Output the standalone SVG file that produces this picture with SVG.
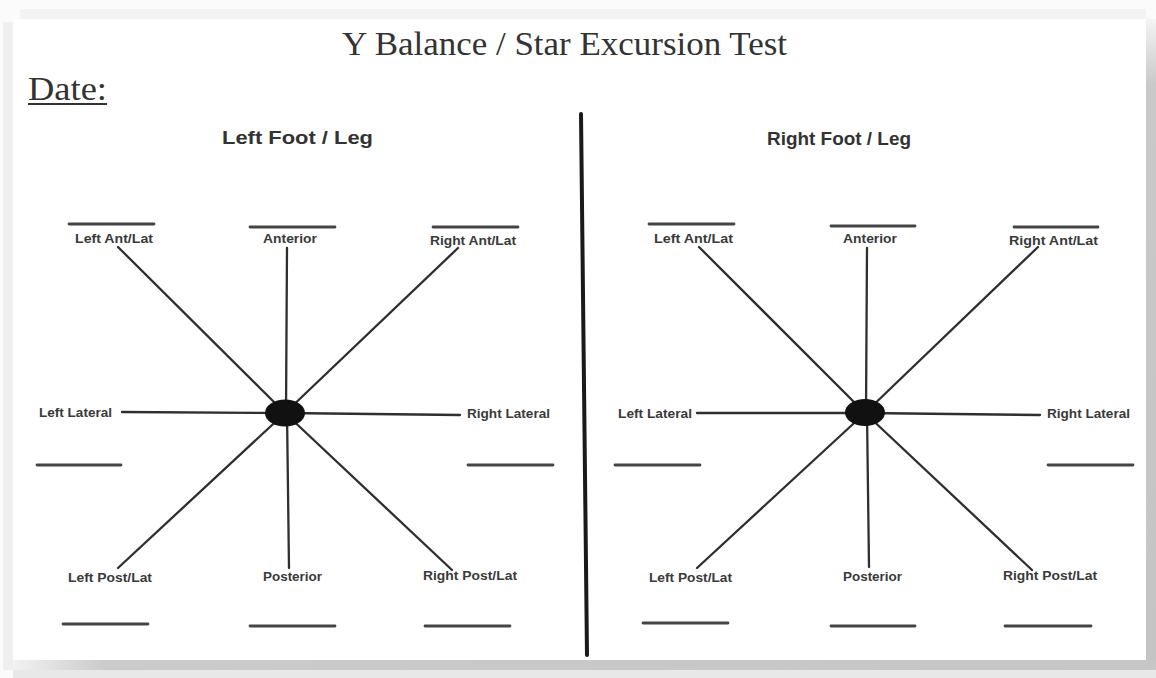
<svg xmlns="http://www.w3.org/2000/svg" width="1156" height="678" viewBox="0 0 1156 678">
  <defs>
    <linearGradient id="edgeRight" x1="0" y1="0" x2="0" y2="1">
      <stop offset="0" stop-color="#f4f4f4"/>
      <stop offset="0.1" stop-color="#c9c9c9"/>
      <stop offset="1" stop-color="#c4c4c4"/>
    </linearGradient>
    <linearGradient id="edgeBottom" x1="0" y1="0" x2="1" y2="0">
      <stop offset="0" stop-color="#f2f2f2"/>
      <stop offset="0.08" stop-color="#cbcbcb"/>
      <stop offset="1" stop-color="#c6c6c6"/>
    </linearGradient>
    <style>
      .title { font-family: "Liberation Serif", "DejaVu Serif", serif; fill: #333; }
      .side { font-family: "Liberation Sans", Arial, sans-serif; font-weight: bold; font-size: 19px; fill: #333; }
      .lbl { font-family: "Liberation Sans", Arial, sans-serif; font-weight: bold; font-size: 12.5px; fill: #3a3a3a; }
      .spoke { stroke: #2f2f2f; stroke-width: 2.3; stroke-linecap: round; fill: none; }
      .blank { stroke: #444; stroke-width: 2.8; stroke-linecap: round; fill: none; }
      .hub { fill: #111; }
    </style>
  </defs>

  <!-- page with its soft drop edges -->
  <rect x="0" y="0" width="1156" height="678" fill="#fbfbfb"/>
  <rect x="20" y="9" width="1126" height="10" fill="#f3f3f3"/>
  <rect x="3" y="22" width="10" height="648" fill="#efefef"/>
  <rect x="1146" y="19" width="10" height="651" fill="url(#edgeRight)"/>
  <rect x="13" y="660" width="1143" height="10" fill="url(#edgeBottom)"/>
  <rect x="13" y="670" width="1143" height="8" fill="#e8e8e8"/>
  <rect x="13" y="19" width="1133" height="641" fill="#ffffff"/>

  <!-- header -->
  <g id="title">
    <text class="title" x="342" y="55" font-size="34" textLength="445" lengthAdjust="spacingAndGlyphs">Y Balance / Star Excursion Test</text>
  </g>
  <g id="date">
    <text class="title" x="28" y="100" font-size="34" textLength="79" lengthAdjust="spacingAndGlyphs">Date:</text>
    <line x1="28" y1="104" x2="107" y2="104" stroke="#333" stroke-width="2"/>
  </g>

  <!-- divider between the two legs -->
  <g id="divider">
    <line x1="581" y1="114" x2="587" y2="655" stroke="#1a1a1a" stroke-width="4" stroke-linecap="round"/>
  </g>

  <!-- LEFT FOOT -->
  <g id="left-heading">
    <text class="side" x="222" y="144" textLength="151" lengthAdjust="spacingAndGlyphs">Left Foot / Leg</text>
  </g>

  <g id="left-connectors">
    <line class="spoke" x1="287" y1="248" x2="286" y2="413"/>
    <line class="spoke" x1="458" y1="248" x2="285" y2="413"/>
    <line class="spoke" x1="118" y1="247" x2="285" y2="413"/>
    <line class="spoke" x1="122" y1="412" x2="285" y2="413"/>
    <line class="spoke" x1="285" y1="413" x2="460" y2="415"/>
    <line class="spoke" x1="285" y1="413" x2="452" y2="570"/>
    <line class="spoke" x1="287" y1="413" x2="289" y2="568"/>
    <line class="spoke" x1="285" y1="413" x2="118" y2="568"/>
  </g>

  <g id="left-hub"><ellipse class="hub" cx="285" cy="413" rx="20" ry="13.5"/></g>

  <g id="left-ant-lat">
    <line class="blank" x1="69" y1="224" x2="154" y2="224"/>
    <text class="lbl" x="75" y="243" textLength="78" lengthAdjust="spacingAndGlyphs">Left Ant/Lat</text>
  </g>
  <g id="left-anterior">
    <line class="blank" x1="250" y1="227" x2="335" y2="227"/>
    <text class="lbl" x="263" y="243" textLength="54" lengthAdjust="spacingAndGlyphs">Anterior</text>
  </g>
  <g id="left-right-ant-lat">
    <line class="blank" x1="433" y1="227" x2="518" y2="227"/>
    <text class="lbl" x="430" y="245" textLength="86" lengthAdjust="spacingAndGlyphs">Right Ant/Lat</text>
  </g>
  <g id="left-left-lateral">
    <text class="lbl" x="39" y="417" textLength="73" lengthAdjust="spacingAndGlyphs">Left Lateral</text>
    <line class="blank" x1="37" y1="465" x2="121" y2="465"/>
  </g>
  <g id="left-right-lateral">
    <text class="lbl" x="467" y="418" textLength="83" lengthAdjust="spacingAndGlyphs">Right Lateral</text>
    <line class="blank" x1="468" y1="465" x2="553" y2="465"/>
  </g>
  <g id="left-left-post-lat">
    <text class="lbl" x="68" y="582" textLength="84" lengthAdjust="spacingAndGlyphs">Left Post/Lat</text>
    <line class="blank" x1="63" y1="624" x2="148" y2="624"/>
  </g>
  <g id="left-posterior">
    <text class="lbl" x="263" y="581" textLength="59" lengthAdjust="spacingAndGlyphs">Posterior</text>
    <line class="blank" x1="250" y1="626" x2="335" y2="626"/>
  </g>
  <g id="left-right-post-lat">
    <text class="lbl" x="423" y="580" textLength="94" lengthAdjust="spacingAndGlyphs">Right Post/Lat</text>
    <line class="blank" x1="425" y1="626" x2="510" y2="626"/>
  </g>

  <!-- RIGHT FOOT -->
  <g id="right-heading">
    <text class="side" x="767" y="145" textLength="144" lengthAdjust="spacingAndGlyphs">Right Foot / Leg</text>
  </g>

  <g id="right-connectors">
    <line class="spoke" x1="867" y1="248" x2="866" y2="413"/>
    <line class="spoke" x1="1038" y1="247" x2="865" y2="413"/>
    <line class="spoke" x1="699" y1="247" x2="865" y2="413"/>
    <line class="spoke" x1="697" y1="413" x2="865" y2="413"/>
    <line class="spoke" x1="865" y1="413" x2="1040" y2="415"/>
    <line class="spoke" x1="865" y1="413" x2="1032" y2="570"/>
    <line class="spoke" x1="867" y1="413" x2="869" y2="567"/>
    <line class="spoke" x1="865" y1="413" x2="697" y2="568"/>
  </g>

  <g id="right-hub"><ellipse class="hub" cx="865" cy="412.5" rx="20" ry="13.5"/></g>

  <g id="right-left-ant-lat">
    <line class="blank" x1="649" y1="224" x2="734" y2="224"/>
    <text class="lbl" x="654" y="243" textLength="79" lengthAdjust="spacingAndGlyphs">Left Ant/Lat</text>
  </g>
  <g id="right-anterior">
    <line class="blank" x1="831" y1="226" x2="915" y2="226"/>
    <text class="lbl" x="843" y="243" textLength="54" lengthAdjust="spacingAndGlyphs">Anterior</text>
  </g>
  <g id="right-right-ant-lat">
    <line class="blank" x1="1014" y1="227" x2="1098" y2="227"/>
    <text class="lbl" x="1009" y="245" textLength="89" lengthAdjust="spacingAndGlyphs">Right Ant/Lat</text>
  </g>
  <g id="right-left-lateral">
    <text class="lbl" x="618" y="418" textLength="74" lengthAdjust="spacingAndGlyphs">Left Lateral</text>
    <line class="blank" x1="615" y1="465" x2="700" y2="465"/>
  </g>
  <g id="right-right-lateral">
    <text class="lbl" x="1047" y="418" textLength="83" lengthAdjust="spacingAndGlyphs">Right Lateral</text>
    <line class="blank" x1="1048" y1="465" x2="1133" y2="465"/>
  </g>
  <g id="right-left-post-lat">
    <text class="lbl" x="649" y="582" textLength="83" lengthAdjust="spacingAndGlyphs">Left Post/Lat</text>
    <line class="blank" x1="643" y1="623" x2="728" y2="623"/>
  </g>
  <g id="right-posterior">
    <text class="lbl" x="843" y="581" textLength="59" lengthAdjust="spacingAndGlyphs">Posterior</text>
    <line class="blank" x1="831" y1="626" x2="915" y2="626"/>
  </g>
  <g id="right-right-post-lat">
    <text class="lbl" x="1003" y="580" textLength="94" lengthAdjust="spacingAndGlyphs">Right Post/Lat</text>
    <line class="blank" x1="1005" y1="626" x2="1091" y2="626"/>
  </g>
</svg>
